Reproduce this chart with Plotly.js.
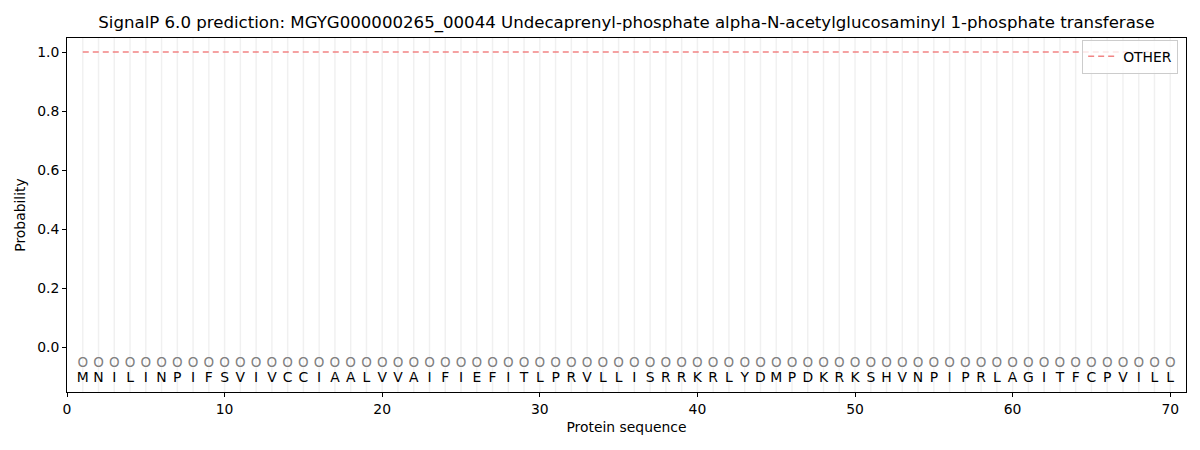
<!DOCTYPE html>
<html>
<head>
<meta charset="utf-8">
<script src="https://cdn.plot.ly/plotly-3.0.1.min.js"></script>
<style>html,body{margin:0;padding:0;background:#fff;}#chart{width:1200px;height:450px;}</style>
</head>
<body>
<div id="chart"></div>
<script>
const sequence = ["M","N","I","L","I","N","P","I","F","S","V","I","V","C","C","I","A","A","L","V","V","A","I","F","I","E","F","I","T","L","P","R","V","L","L","I","S","R","R","K","R","L","Y","D","M","P","D","K","R","K","S","H","V","N","P","I","P","R","L","A","G","I","T","F","C","P","V","I","L","L"];
const predLabels = sequence.map(() => "O");
const otherProb = sequence.map(() => 1.0);
const positions = sequence.map((_, i) => i + 1);
const markerLevel = -0.056;
const letterLevel = -0.107;
const yTicks = [0.0, 0.2, 0.4, 0.6, 0.8, 1.0];
const xTicks = [0, 10, 20, 30, 40, 50, 60, 70];

const font = "DejaVu Sans, sans-serif";

// vertical guide lines at each residue
const gx = [], gy = [];
positions.forEach(p => { gx.push(p, p, null); gy.push(-0.2, 1.1, null); });

const traces = [
  {x: gx, y: gy, mode: "lines", line: {color: "rgba(0,0,0,0.06)", width: 1.5}, hoverinfo: "skip", showlegend: false},
  {x: positions, y: otherProb, mode: "lines", name: "OTHER", line: {color: "rgba(240,110,110,0.85)", width: 1.6, dash: "6px,4px"}},
  {x: positions, y: positions.map(() => markerLevel), mode: "text", text: predLabels, textfont: {family: font, size: 13.5, color: "#808080"}, showlegend: false, hoverinfo: "skip"},
  {x: positions, y: positions.map(() => letterLevel), mode: "text", text: sequence, textfont: {family: font, size: 13.9, color: "#000"}, showlegend: false, hoverinfo: "skip"}
];

const layout = {
  width: 1200, height: 450,
  margin: {l: 67, r: 14, t: 38, b: 58},
  paper_bgcolor: "#fff", plot_bgcolor: "#fff",
  font: {family: font, size: 13.9, color: "#000"},
  title: {text: "SignalP 6.0 prediction: MGYG000000265_00044 Undecaprenyl-phosphate alpha-N-acetylglucosaminyl 1-phosphate transferase", font: {family: font, size: 16.6, color: "#000"}, xref: "paper", x: 0.5, xanchor: "center", y: 0.95, yanchor: "middle"},
  xaxis: {range: [0, 71], tickvals: xTicks, ticktext: xTicks.map(String), showgrid: false, zeroline: false, showline: true, mirror: true, linecolor: "#000", linewidth: 1, ticks: "outside", ticklen: 4, tickcolor: "#000",
    title: {text: "Protein sequence", font: {family: font, size: 13.9}, standoff: 6}},
  yaxis: {range: [-0.1525, 1.0475], tickvals: yTicks, ticktext: yTicks.map(v => v.toFixed(1)), showgrid: false, zeroline: false, showline: true, mirror: true, linecolor: "#000", linewidth: 1, ticks: "outside", ticklen: 4, tickcolor: "#000",
    title: {text: "Probability", font: {family: font, size: 13.9}, standoff: 8}},
  legend: {x: 0.993, y: 0.995, xanchor: "right", yanchor: "top", bgcolor: "rgba(255,255,255,0.8)", bordercolor: "#ccc", borderwidth: 1, font: {family: font, size: 13.9}},
  showlegend: true
};

Plotly.newPlot("chart", traces, layout, {displayModeBar: false, staticPlot: true});
</script>
</body>
</html>
